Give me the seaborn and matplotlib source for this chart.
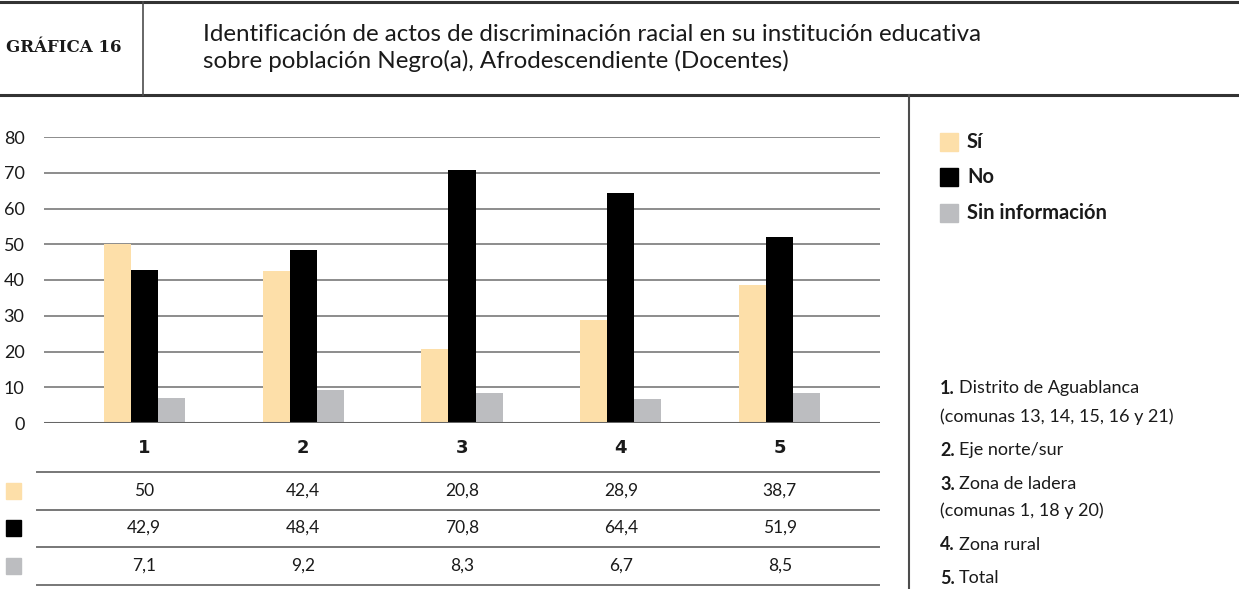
import matplotlib
matplotlib.use("Agg")
import matplotlib.pyplot as plt
import matplotlib.transforms as mtransforms
from matplotlib.lines import Line2D
from matplotlib.patches import Rectangle
import seaborn as sns
import pandas as pd

# ── Data ──────────────────────────────────────────────────────
categories = ["1", "2", "3", "4", "5"]
series = ["Sí", "No", "Sin información"]
si_vals = [50, 42.4, 20.8, 28.9, 38.7]
no_vals = [42.9, 48.4, 70.8, 64.4, 51.9]
sin_vals = [7.1, 9.2, 8.3, 6.7, 8.5]
notes = [
    ("1.", "Distrito de Aguablanca", "(comunas 13, 14, 15, 16 y 21)"),
    ("2.", "Eje norte/sur", None),
    ("3.", "Zona de ladera", "(comunas 1, 18 y 20)"),
    ("4.", "Zona rural", None),
    ("5.", "Total", None),
]
title_tag = "GRÁFICA 16"
title = ("Identificación de actos de discriminación racial en su institución educativa\n"
         "sobre población Negro(a), Afrodescendiente (Docentes)")

COLORS = {"Sí": "#fddfa9", "No": "#000000", "Sin información": "#bcbdc0"}
LINE = "#4d4d4d"
FONT = "Lato"

df = pd.DataFrame({
    "cat": categories * 3,
    "serie": [s for s in series for _ in categories],
    "valor": si_vals + no_vals + sin_vals,
})

W, H = 1239, 589
fig = plt.figure(figsize=(W / 100, H / 100), dpi=100)


def px(x, y):
    return x / W, 1 - y / H


def hline(x0, x1, y, lw=1.5, color=LINE):
    fig.add_artist(Line2D([x0 / W, x1 / W], [1 - y / H, 1 - y / H],
                          color=color, lw=lw, transform=fig.transFigure))


def vline(x, y0, y1, lw=1.5, color=LINE):
    fig.add_artist(Line2D([x / W, x / W], [1 - y0 / H, 1 - y1 / H],
                          color=color, lw=lw, transform=fig.transFigure))


# ── Header ────────────────────────────────────────────────────
hline(0, W, 2, lw=2.2, color="#333333")
hline(0, W, 95, lw=2.2, color="#333333")
vline(143, 2, 95, lw=1.2)
fig.text(*px(6, 48), title_tag, fontsize=12, fontweight="bold",
         family="DejaVu Serif", va="center", ha="left", color="#1a1a1a")
fig.text(*px(203, 48), title, fontsize=17.4, family=FONT, va="center",
         ha="left", color="#1a1a1a", linespacing=1.3)

# ── Bars ──────────────────────────────────────────────────────
left, right, top, bottom = 44, 880, 137, 423
ax = fig.add_axes([left / W, 1 - bottom / H, (right - left) / W, (bottom - top) / H])
sns.barplot(data=df, x="cat", y="valor", hue="serie", order=categories,
            hue_order=series, palette=COLORS, width=0.51, saturation=1,
            ax=ax, legend=False, zorder=3)
ax.set_xlim(-0.63, 4.63)
ax.set_ylim(0, 80)
ax.set_yticks(range(0, 81, 10))
for yv in range(10, 81, 10):
    ax.axhline(yv, color="#8c8c8c", lw=1.4, zorder=1)
ax.axhline(0, color="#666666", lw=2.2, zorder=4)
for s in ax.spines.values():
    s.set_visible(False)
ax.set_xlabel("")
ax.set_ylabel("")
ax.set_xticks([])
ax.tick_params(axis="y", length=0, pad=14, labelsize=13, labelcolor="#1a1a1a")
for lab in ax.get_yticklabels():
    lab.set_family(FONT)
ax.patch.set_alpha(0)

# ── Table below ───────────────────────────────────────────────
blend = mtransforms.blended_transform_factory(ax.transData, fig.transFigure)
for i, c in enumerate(categories):
    ax.text(i, 1 - 448 / H, c, transform=blend, ha="center", va="center",
            fontsize=13, fontweight="bold", family="DejaVu Sans", color="#1a1a1a")
rows = [si_vals, no_vals, sin_vals]
row_y = [491, 528, 566]
for serie, vals, y in zip(series, rows, row_y):
    for i, v in enumerate(vals):
        ax.text(i, 1 - y / H, f"{v:g}".replace(".", ","), transform=blend,
                ha="center", va="center", fontsize=12.5, family=FONT, color="#1a1a1a")
    fig.add_artist(Rectangle((6 / W, 1 - (y + 8) / H), 15 / W, 16 / H,
                             color=COLORS[serie], transform=fig.transFigure))
for y in [472, 510, 547, 585]:
    hline(37, 879, y, lw=1.4, color="#777777")

# ── Right panel: legend and notes ─────────────────────────────
vline(909, 95, H, lw=1.5)
for serie, y in zip(series, [142, 177, 213]):
    fig.add_artist(Rectangle((940 / W, 1 - (y + 9) / H), 18 / W, 18 / H,
                             color=COLORS[serie], transform=fig.transFigure))
    fig.text(*px(967, y), serie, fontsize=14.5, fontweight="bold", family=FONT,
             va="center", ha="left", color="#1a1a1a")

note_y = [(388, 417), (450, None), (484, 511), (545, None), (578, None)]
for (num, name, sub), (y1, y2) in zip(notes, note_y):
    t = fig.text(*px(940, y1), num, fontsize=13, fontweight="bold", family=FONT,
                 va="center", ha="left", color="#1a1a1a")
    fig.canvas.draw()
    bb = t.get_window_extent()
    fig.text((bb.x1 + 4) / W, 1 - y1 / H, name, fontsize=13, family=FONT,
             va="center", ha="left", color="#1a1a1a")
    if sub:
        fig.text(*px(940, y2), sub, fontsize=13, family=FONT,
                 va="center", ha="left", color="#1a1a1a")

fig.savefig("out.png", dpi=100)
